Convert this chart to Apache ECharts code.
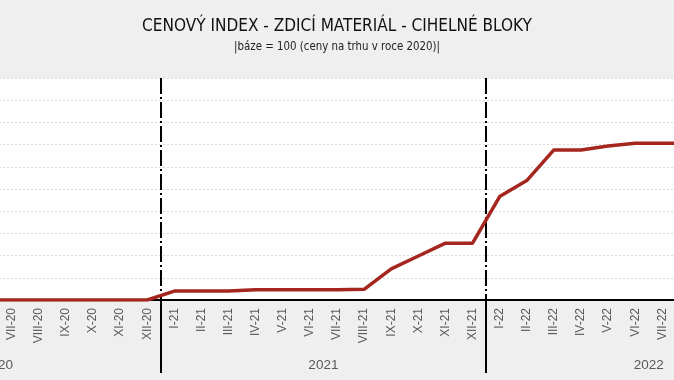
<!DOCTYPE html>
<html>
<head>
<meta charset="utf-8">
<script src="https://cdn.jsdelivr.net/npm/echarts@6/dist/echarts.min.js"></script>
<style>
html,body{margin:0;padding:0;background:#efefef;overflow:hidden;}
#c{position:absolute;left:-29px;top:0;width:732px;height:380px;}
</style>
</head>
<body>
<div id="c"></div>
<script>
var months = ['VI-20','VII-20','VIII-20','IX-20','X-20','XI-20','XII-20',
  'I-21','II-21','III-21','IV-21','V-21','VI-21','VII-21','VIII-21','IX-21','X-21','XI-21','XII-21',
  'I-22','II-22','III-22','IV-22','V-22','VI-22','VII-22','VIII-22'];
var years = ['2020','2020','2020','2020','2020','2020','2020',
  '2021','2021','2021','2021','2021','2021','2021','2021','2021','2021','2021','2021',
  '2022','2022','2022','2022','2022','2022','2022','2022'];
var indexValues = [100,100,100,100,100,100,100,
  102.0,102.0,102.0,102.3,102.3,102.3,102.3,102.4,107.0,109.9,112.8,112.8,
  123.3,126.9,133.8,133.8,134.7,135.3,135.3,135.3];
var titleText = 'CENOVÝ INDEX - ZDICÍ MATERIÁL - CIHELNÉ BLOKY';
var subtitleText = '|báze = 100 (ceny na trhu v roce 2020)|';

var ctx = document.createElement('canvas').getContext('2d');
function fontAvailable(f){
  var s = 'CENOVÝ INDEX mmmwwwiii 0123';
  ctx.font = '50px monospace'; var a = ctx.measureText(s).width;
  ctx.font = '50px "' + f + '", monospace'; var b = ctx.measureText(s).width;
  ctx.font = '50px serif'; var c = ctx.measureText(s).width;
  ctx.font = '50px "' + f + '", serif'; var d = ctx.measureText(s).width;
  return a !== b || c !== d;
}
var candidates = ['Liberation Sans Narrow', 'DejaVu Sans Condensed', 'Liberation Sans'];
var titleFont = candidates.filter(fontAvailable)[0] || 'sans-serif';
function fitSize(text, family, targetWidth, maxSize){
  ctx.font = '100px "' + family + '"';
  var w = ctx.measureText(text).width;
  return Math.min(maxSize, 100 * targetWidth / w);
}
var titleSize = fitSize(titleText, titleFont, 390, 23);
var subSize = fitSize(subtitleText, titleFont, 206, 16);

var chart = echarts.init(document.getElementById('c'), null, {renderer:'canvas'});
function isYearStart(i){ return i > 0 && years[i] !== years[i-1]; }
var option = {
  backgroundColor: '#efefef',
  animation: false,
  title: {
    text: titleText,
    subtext: subtitleText,
    left: 'center',
    top: 13,
    itemGap: 7,
    textStyle: {fontFamily: titleFont, fontWeight: 'normal', fontSize: titleSize, color: '#111'},
    subtextStyle: {fontFamily: titleFont, fontSize: subSize, color: '#222'}
  },
  grid: {
    left: 0, right: 0, top: 78, bottom: 80,
    show: true, backgroundColor: '#ffffff', borderWidth: 0
  },
  xAxis: [{
    type: 'category', data: months, boundaryGap: true, position: 'bottom',
    axisLine: {show: true, lineStyle: {color: '#000', width: 2}},
    axisTick: {show: false},
    axisLabel: {rotate: 90, interval: 0, margin: 8, fontSize: 12, color: '#595959', fontFamily: 'Liberation Sans'},
    splitLine: {show: false}
  }, {
    type: 'category', data: years, boundaryGap: true, position: 'bottom', offset: 0,
    axisLine: {show: false},
    axisTick: {show: true, length: 73, interval: function(i){ return isYearStart(i); }, lineStyle: {color: '#000', width: 2}},
    axisLabel: {
      interval: function(i){ return months[i].indexOf('VI-') === 0; },
      margin: 58, fontSize: 13.5, color: '#595959', padding: [0,0,0,27],
      fontFamily: 'Liberation Sans'
    },
    splitLine: {show: true, interval: function(i){ return isYearStart(i); },
      lineStyle: {color: '#000', width: 2, type: [16, 3, 2, 3]}}
  }],
  yAxis: {
    type: 'value', min: 100, max: 150, interval: 5,
    axisLabel: {show: false}, axisLine: {show: false}, axisTick: {show: false},
    splitLine: {show: true, lineStyle: {color: '#d9d9d9', width: 1, type: [2, 2]}}
  },
  series: [{
    type: 'line', data: indexValues, xAxisIndex: 0, symbol: 'none',
    lineStyle: {color: '#a5261f', width: 3.5}, z: 5
  }]
};
chart.setOption(option);
</script>
</body>
</html>
